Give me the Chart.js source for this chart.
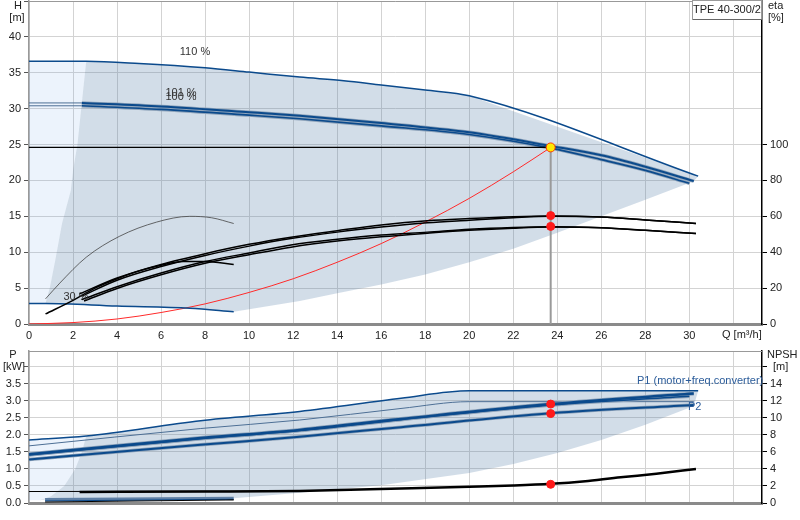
<!DOCTYPE html>
<html>
<head>
<meta charset="utf-8">
<script src="https://cdn.jsdelivr.net/npm/chart.js@4"></script>
<style>
  body { margin: 0; background: #fff; }
  #wrap { position: relative; width: 800px; height: 520px; }
  canvas { position: absolute; left: 0; }
  #top { top: 0; }
  #bot { top: 340px; }
</style>
</head>
<body>
<div id="wrap">
  <canvas id="top" width="800" height="340"></canvas>
  <canvas id="bot" width="800" height="180"></canvas>
</div>
<script>
// ---- head curves, Q [m3/h] / H [m]
const q110 = [0, 2.6, 5, 8, 10, 12.3, 14.3, 16, 18, 20, 30.4];
const h110 = [36.6, 36.6, 36.3, 35.7, 35.1, 34.4, 33.9, 33.3, 32.6, 31.8, 20.6];
const q101 = [2.4, 6, 10, 12.3, 16, 20, 23.7, 26, 28, 30.2];
const h101 = [30.8, 30.3, 29.5, 29.0, 28.0, 26.7, 24.8, 23.5, 21.9, 19.9];
const q100 = [2.4, 6, 10, 12.3, 16, 20, 23.7, 26, 28, 30.0];
const h100 = [30.4, 29.9, 29.1, 28.6, 27.6, 26.4, 24.5, 22.9, 21.4, 19.6];
const q30 = [0, 0.75, 4, 7.3, 9.3];
const h30 = [2.85, 2.85, 2.5, 2.2, 1.7];

// operating range edges
const qLeftEdge = [2.6, 2.2, 2.0, 1.9, 1.5, 1.2, 0.95, 0.75];
const hLeftEdge = [36.6, 25, 21.4, 18.6, 14, 9, 5.1, 2.85];
const qLowEdge = [9.3, 12.3, 14, 16, 18, 20, 22, 24, 26, 28, 30.2];
const hLowEdge = [1.7, 3.2, 4.3, 5.5, 6.9, 8.6, 10.5, 12.7, 15.0, 17.3, 19.9];

// system curve
const qSys = [0, 2, 4, 6, 8, 10, 12, 14, 16, 18, 20, 22, 23.7];
const hSys = [0, 0.2, 0.7, 1.6, 2.8, 4.4, 6.3, 8.6, 11.2, 14.2, 17.5, 21.2, 24.6];

// efficiency curves, eta [%]
const qEtaA = [0.75, 1.4, 2.6, 4.1, 5.8, 7.3, 8.3, 9.3];
const etaA = [14, 22.8, 37.2, 48.8, 56.8, 60, 59.2, 56];
const qEtaB = [0.75, 2, 3, 4, 5, 6, 7, 8, 9.3];
const etaB = [5.6, 13.2, 20, 25.2, 29.6, 32.8, 34.8, 34.8, 33.2];
const qEta = [4, 6, 8, 10, 11.9, 14, 16, 18.1, 20, 22, 23.7, 26, 28, 30.3];
const eta1 = [25.6, 33.2, 39.2, 44.4, 48.4, 52, 55.2, 57.6, 58.8, 59.8, 60.2, 59.6, 58, 56];
const eta2 = [24.4, 32.0, 38.2, 43.4, 47.6, 51.2, 54.0, 56.4, 57.8, 59.2, 60, 59.6, 58, 56];
const eta3 = [20.8, 28.4, 34.8, 39.6, 44, 47.2, 49.6, 51.2, 52.8, 53.8, 54.2, 53.6, 52.2, 50.4];
const eta4 = [19.8, 27.4, 33.8, 38.6, 42.8, 46.2, 48.6, 50.6, 52.2, 53.4, 54, 53.6, 52.2, 50.4];
const qEtaStart = [2.3, 2.4, 2.4, 2.5];
const etaStart = [16.8, 15.6, 13.6, 12.8];

// duty point
const qDuty = 23.7;
const hDuty = 24.6;
const etaDuty = [60.4, 54.4];
const pDuty = [2.91, 2.63];
const npshDuty = 2.2;

// ---- power curves, P [kW]
const qP110 = [0, 2.6, 7.8, 12.3, 16.9, 20, 30.4];
const pP110 = [1.85, 1.97, 2.42, 2.69, 3.08, 3.30, 3.30];
const qPb = [0, 7.8, 12.3, 16.9, 20, 30.2];
const pPb = [1.68, 2.19, 2.44, 2.78, 2.98, 2.98];
const qP1 = [0, 7.8, 12.3, 16.9, 23.7, 30.2];
const pP1 = [1.43, 1.91, 2.15, 2.47, 2.91, 3.22];
const qP1b = [0, 7.8, 12.3, 16.9, 23.7, 30.0];
const pP1b = [1.41, 1.89, 2.13, 2.45, 2.88, 3.14];
const qP2 = [0, 7.8, 12.3, 16.9, 23.7, 30.2];
const pP2 = [1.28, 1.71, 1.95, 2.23, 2.64, 2.88];
const qP30 = [0.73, 9.3];
const pP1_30 = [0.1, 0.14];
const pP2_30 = [0.06, 0.11];
const qPLeft = [2.6, 2.4, 2.1, 1.6, 1.0, 0.5];
const pPLeft = [1.97, 1.5, 1.0, 0.5, 0.2, 0.08];
const qPLow = [9.3, 12.3, 16, 20, 22, 24, 26, 28, 30.2];
const pPLow = [0.14, 0.3, 0.52, 0.88, 1.15, 1.47, 1.85, 2.3, 2.85];

// NPSH [m]
const qNpsh = [2.3, 8, 12.3, 16.9, 20, 22, 23.7, 25.4, 27, 28.5, 30.3];
const npsh = [1.3, 1.35, 1.42, 1.7, 1.9, 2.05, 2.25, 2.6, 3.05, 3.45, 4.0];
const qNpshExt = [0, 12];
const npshExt = [1.35, 1.4];
const qN30 = [0.73, 9.3];
const npsh30 = [0.12, 0.36];

// ---- helpers
const pts = (qs, vs) => qs.map((q, i) => ({ x: q, y: vs[i] }));
const BLUE = '#0b4a8c';
const FONT = '"Liberation Sans", Arial, sans-serif';

Chart.defaults.font.family = FONT;
Chart.defaults.font.size = 11;
Chart.defaults.color = '#222';
Chart.defaults.elements.point.radius = 0;
Chart.defaults.animation = false;

function line(data, color, width, axis, extra) {
  return Object.assign({
    data: data, borderColor: color, borderWidth: width, fill: false,
    yAxisID: axis, cubicInterpolationMode: 'monotone', pointRadius: 0
  }, extra || {});
}
function area(data, color, axis) {
  return { data: data, borderWidth: 0, borderColor: 'rgba(0,0,0,0)', backgroundColor: color,
    fill: 'shape', tension: 0, yAxisID: axis, pointRadius: 0 };
}
function dots(data, axis, fillCol, edgeCol, r) {
  return { data: data, showLine: false, yAxisID: axis, pointRadius: r,
    pointBackgroundColor: fillCol, pointBorderColor: edgeCol, pointBorderWidth: 1 };
}
// first in list is drawn first (at the bottom)
function stack(list) {
  const n = list.length;
  return list.map((d, i) => Object.assign({ order: n - i }, d));
}
// fixed axis sizes, no extra label padding
function fixSize(w, h) {
  return s => {
    if (w != null) s.width = w;
    if (h != null) s.height = h;
    s.paddingTop = 0; s.paddingBottom = 0; s.paddingLeft = 0; s.paddingRight = 0;
  };
}

const xScale = (h) => ({
  type: 'linear', min: 0, max: 33.3,
  ticks: { stepSize: 2, includeBounds: false, autoSkip: false, maxRotation: 0, padding: 5,
    display: h > 16 ? false : true, callback: v => v <= 30 ? v : '' },
  grid: { color: '#d3d3d3', drawTicks: false },
  border: { color: '#8a8a8a', width: 3 },
  afterFit: fixSize(null, h)
});

function text(ctx, s, x, y, align, color) {
  ctx.fillStyle = color || '#222';
  ctx.textAlign = align || 'center';
  ctx.textBaseline = 'middle';
  ctx.fillText(s, x, y);
}

// ---- top chart: head + efficiency
const shadeLight = [{ x: 0, y: h110[0] }, ...pts(qLeftEdge, hLeftEdge), { x: 0, y: h30[0] }];
const shadeMain = [
  ...pts(q110.slice(1), h110.slice(1)),
  ...pts(qLowEdge, hLowEdge).reverse(),
  ...pts(q30.slice(1), h30.slice(1)).reverse(),
  ...pts(qLeftEdge, hLeftEdge).reverse()
];

const etaSeries = [eta1, eta2, eta3, eta4];

new Chart(document.getElementById('top'), {
  type: 'line',
  data: {
    datasets: stack([
      area(shadeLight, 'rgba(100,160,230,0.12)', 'y'),
      area(shadeMain, 'rgba(75,119,163,0.25)', 'y'),
      line(pts(qSys, hSys), '#ff2a2a', 1, 'y'),
      line(pts([0, q101[0]], [h101[0], h101[0]]), '#4d6f95', 1, 'y'),
      line(pts([0, q100[0]], [h100[0], h100[0]]), '#4d6f95', 1, 'y'),
      line(pts(q110, h110), BLUE, 1.5, 'y'),
      line(pts(q101, h101), '#8ea3ba', 3.5, 'y'),
      line(pts(q100, h100), '#8ea3ba', 3.5, 'y'),
      line(pts(q101, h101), BLUE, 2, 'y'),
      line(pts(q100, h100), BLUE, 1.6, 'y'),
      line(pts(q30, h30), BLUE, 1.5, 'y'),
      line(pts(qEtaA, etaA), '#444', 0.8, 'eta'),
      line(pts(qEtaB, etaB), '#000', 1.5, 'eta'),
      ...etaSeries.map((e, i) => line(
        [{ x: qEtaStart[i], y: etaStart[i] }, ...pts(qEta, e)], '#000', 1.5, 'eta')),
      line(pts([0, qDuty], [hDuty, hDuty]), '#000', 1.2, 'y', { tension: 0 }),
      line(pts([qDuty, qDuty], [hDuty, 0]), '#9a9a9a', 2, 'y', { tension: 0 }),
      dots(etaDuty.map(v => ({ x: qDuty, y: v })), 'eta', '#ff1a1a', '#ff1a1a', 4),
      dots([{ x: qDuty, y: hDuty }], 'y', '#ffea00', '#ff3b00', 4.5)
    ])
  },
  options: {
    responsive: false,
    events: [],
    layout: { autoPadding: false, padding: { top: 1 } },
    plugins: { legend: { display: false }, tooltip: { enabled: false } },
    scales: {
      x: xScale(16),
      y: {
        position: 'left', min: 0, max: 45,
        ticks: { stepSize: 5, includeBounds: false, padding: 3, callback: v => v <= 40 ? v : '' },
        grid: { color: '#d3d3d3', tickLength: 5, tickColor: '#555' },
        border: { color: '#999', width: 1.5 },
        afterFit: fixSize(29, null)
      },
      eta: {
        position: 'right', min: 0, max: 180,
        ticks: { stepSize: 20, includeBounds: false, padding: 3, callback: v => v <= 100 ? v : '' },
        grid: { drawOnChartArea: false, tickLength: 5,
          tickColor: c => (c.tick && c.tick.value <= 100) ? '#000' : 'rgba(0,0,0,0)' },
        border: { color: '#000', width: 1.5 },
        afterFit: fixSize(38, null)
      }
    }
  },
  plugins: [{
    id: 'topText',
    afterDraw(chart) {
      const ctx = chart.ctx, a = chart.chartArea;
      ctx.save();
      ctx.strokeStyle = '#999'; ctx.lineWidth = 1;
      ctx.beginPath(); ctx.moveTo(a.left, a.top + 0.5); ctx.lineTo(a.right, a.top + 0.5); ctx.stroke();
      ctx.font = '11px ' + FONT;
      text(ctx, 'H', 18, 6);
      text(ctx, '[m]', 17, 18);
      text(ctx, 'eta', 768, 6, 'left');
      text(ctx, '[%]', 768, 18, 'left');
      text(ctx, 'Q [m³/h]', 722, 335, 'left');
      text(ctx, '110 %', 195, 52, 'center', '#333');
      text(ctx, '101 %', 181, 93, 'center', '#333');
      text(ctx, '100 %', 181, 97, 'center', '#333');
      text(ctx, '30 %', 76, 297, 'center', '#333');
      // type box
      ctx.fillStyle = '#fff';
      ctx.fillRect(692, 0, 70, 20);
      ctx.strokeStyle = '#9a9a9a';
      ctx.strokeRect(692.5, 0.5, 69, 19);
      ctx.strokeStyle = '#666';
      ctx.beginPath(); ctx.moveTo(693, 19.5); ctx.lineTo(762, 19.5); ctx.stroke();
      text(ctx, 'TPE 40-300/2', 727, 10);
      ctx.restore();
    }
  }]
});

// ---- bottom chart: power + NPSH
const pShadeLight = [{ x: 0, y: pP110[0] }, ...pts(qPLeft, pPLeft), { x: 0, y: pPLeft[pPLeft.length - 1] }];
const pShadeMain = [
  ...pts(qP110.slice(1), pP110.slice(1)),
  ...pts(qPLow, pPLow).reverse(),
  ...pts(qP30, pP1_30).reverse(),
  ...pts(qPLeft, pPLeft).reverse()
];

new Chart(document.getElementById('bot'), {
  type: 'line',
  data: {
    datasets: stack([
      area(pShadeLight, 'rgba(100,160,230,0.12)', 'p'),
      area(pShadeMain, 'rgba(75,119,163,0.25)', 'p'),
      line(pts(qP110, pP110), BLUE, 1.5, 'p', { tension: 0 }),
      line(pts(qPb, pPb), '#4d6f95', 1, 'p', { tension: 0 }),
      line(pts(qP1, pP1), '#8ea3ba', 4, 'p'),
      line(pts(qP1b, pP1b), '#8ea3ba', 3.5, 'p'),
      line(pts(qP2, pP2), '#8ea3ba', 3.5, 'p'),
      line(pts(qP1, pP1), BLUE, 2.5, 'p'),
      line(pts(qP1b, pP1b), BLUE, 1.5, 'p'),
      line(pts(qP2, pP2), BLUE, 2, 'p'),
      line(pts(qP30, pP1_30), '#5f7fa4', 3, 'p', { tension: 0 }),
      line(pts(qP30, pP2_30), BLUE, 1, 'p', { tension: 0 }),
      line(pts(qN30, npsh30), '#000', 1.2, 'npsh', { tension: 0 }),
      line(pts(qNpshExt, npshExt), '#000', 1, 'npsh', { tension: 0 }),
      line(pts(qNpsh, npsh), '#000', 2.5, 'npsh'),
      dots(pDuty.map(v => ({ x: qDuty, y: v })), 'p', '#ff1a1a', '#ff1a1a', 4),
      dots([{ x: qDuty, y: npshDuty }], 'npsh', '#ff1a1a', '#ff1a1a', 4)
    ])
  },
  options: {
    responsive: false,
    events: [],
    layout: { autoPadding: false, padding: { top: 11 } },
    plugins: { legend: { display: false }, tooltip: { enabled: false } },
    scales: {
      x: xScale(17),
      p: {
        position: 'left', min: 0, max: 4.47,
        ticks: { stepSize: 0.5, includeBounds: false, padding: 3,
          callback: v => v <= 3.5 ? v.toFixed(1) : '' },
        grid: { color: '#d3d3d3', tickLength: 5, tickColor: '#555' },
        border: { color: '#999', width: 1.5 },
        afterFit: fixSize(29, null)
      },
      npsh: {
        position: 'right', min: 0, max: 17.88,
        ticks: { stepSize: 2, includeBounds: false, padding: 3, callback: v => v <= 14 ? v : '' },
        grid: { drawOnChartArea: false, tickLength: 5, tickColor: '#000' },
        border: { color: '#000', width: 1.5 },
        afterFit: fixSize(38, null)
      }
    }
  },
  plugins: [{
    id: 'botText',
    afterDraw(chart) {
      const ctx = chart.ctx, a = chart.chartArea;
      ctx.save();
      ctx.strokeStyle = '#999'; ctx.lineWidth = 1;
      ctx.beginPath(); ctx.moveTo(a.left, a.top + 0.5); ctx.lineTo(a.right, a.top + 0.5); ctx.stroke();
      ctx.font = '11px ' + FONT;
      text(ctx, 'P', 13, 15);
      text(ctx, '[kW]', 14, 27);
      text(ctx, 'NPSH', 767, 15, 'left');
      text(ctx, '[m]', 773, 27, 'left');
      text(ctx, 'P1 (motor+freq.converter)', 637, 41, 'left', '#2b5c9a');
      text(ctx, 'P2', 688, 67, 'left', '#2b5c9a');
      ctx.restore();
    }
  }]
});
</script>
</body>
</html>
